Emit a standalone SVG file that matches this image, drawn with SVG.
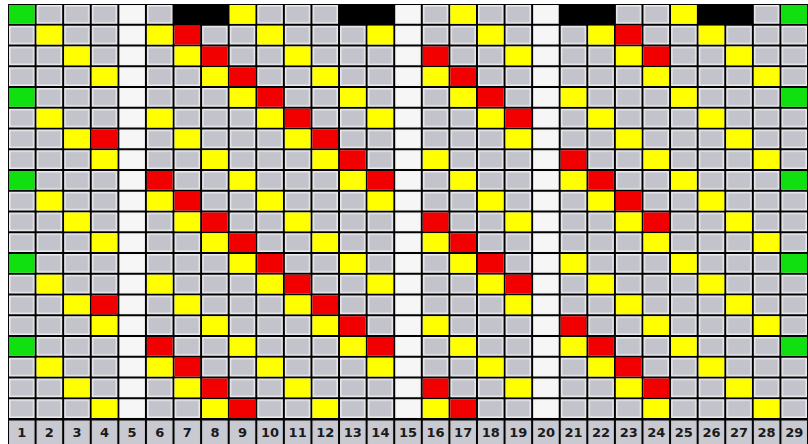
<svg xmlns="http://www.w3.org/2000/svg" xmlns:xlink="http://www.w3.org/1999/xlink" width="808" height="444" viewBox="0 0 808 444">
<style>
.y{fill:#ffff00}
.r{fill:#f20000}
.gr{fill:#10e010}
.k{fill:#000000}
.lbl{font-family:"DejaVu Sans","Liberation Sans",sans-serif;font-size:13px;font-weight:bold;fill:#1a1a1a;text-anchor:middle}
</style>
<defs>
<pattern id="gp" patternUnits="userSpaceOnUse" x="8" y="4" width="27.5862" height="20.75">
<rect width="27.5862" height="20.75" fill="#000"/>
<rect x="1" y="1" width="25.5862" height="18.75" fill="#ececf0"/>
<rect x="2.5" y="2.5" width="22.5862" height="15.75" fill="#c3c3cb"/>
</pattern>
<pattern id="wp" patternUnits="userSpaceOnUse" x="8" y="4" width="27.5862" height="20.75">
<rect width="27.5862" height="20.75" fill="#000"/>
<rect x="1" y="1" width="25.5862" height="18.75" fill="#f6f6f6"/>
</pattern>
<pattern id="lp" patternUnits="userSpaceOnUse" x="8" y="419" width="27.5862" height="25">
<rect width="27.5862" height="25" fill="#000"/>
<rect x="1" y="1.5" width="25.5862" height="24" fill="#c9c9d1"/>
</pattern>
</defs>
<rect width="808" height="444" fill="#ffffff"/>
<g id="grid">
<rect x="8" y="4" width="800" height="415" fill="url(#gp)"/>
<rect id="col5" x="118.345" y="4" width="27.5862" height="415" fill="url(#wp)"/>
<rect id="col15" x="394.207" y="4" width="27.5862" height="415" fill="url(#wp)"/>
<rect id="col20" x="532.138" y="4" width="27.5862" height="415" fill="url(#wp)"/>
</g>
<g id="row0" transform="translate(0,5)">
<rect class="gr" x="9" y="0" width="25.59" height="18.75"/>
<rect class="k" x="173.52" y="-1" width="55.17" height="20.75"/>
<rect class="y" x="229.69" y="0" width="25.59" height="18.75"/>
<rect class="k" x="339.03" y="-1" width="55.17" height="20.75"/>
<rect class="y" x="450.38" y="0" width="25.59" height="18.75"/>
<rect class="k" x="559.72" y="-1" width="55.17" height="20.75"/>
<rect class="y" x="671.07" y="0" width="25.59" height="18.75"/>
<rect class="k" x="697.66" y="-1" width="55.17" height="20.75"/>
<rect class="gr" x="781.41" y="0" width="25.59" height="18.75"/>
</g>
<g id="row1" transform="translate(0,25.75)">
<rect class="y" x="36.59" y="0" width="25.59" height="18.75"/>
<rect class="y" x="146.93" y="0" width="25.59" height="18.75"/>
<rect class="r" x="174.52" y="0" width="25.59" height="18.75"/>
<rect class="y" x="257.28" y="0" width="25.59" height="18.75"/>
<rect class="y" x="367.62" y="0" width="25.59" height="18.75"/>
<rect class="y" x="477.97" y="0" width="25.59" height="18.75"/>
<rect class="y" x="588.31" y="0" width="25.59" height="18.75"/>
<rect class="r" x="615.90" y="0" width="25.59" height="18.75"/>
<rect class="y" x="698.66" y="0" width="25.59" height="18.75"/>
</g>
<g id="row2" transform="translate(0,46.5)">
<rect class="y" x="64.17" y="0" width="25.59" height="18.75"/>
<rect class="y" x="174.52" y="0" width="25.59" height="18.75"/>
<rect class="r" x="202.10" y="0" width="25.59" height="18.75"/>
<rect class="y" x="284.86" y="0" width="25.59" height="18.75"/>
<rect class="r" x="422.79" y="0" width="25.59" height="18.75"/>
<rect class="y" x="505.55" y="0" width="25.59" height="18.75"/>
<rect class="y" x="615.90" y="0" width="25.59" height="18.75"/>
<rect class="r" x="643.48" y="0" width="25.59" height="18.75"/>
<rect class="y" x="726.24" y="0" width="25.59" height="18.75"/>
</g>
<g id="row3" transform="translate(0,67.25)">
<rect class="y" x="91.76" y="0" width="25.59" height="18.75"/>
<rect class="y" x="202.10" y="0" width="25.59" height="18.75"/>
<rect class="r" x="229.69" y="0" width="25.59" height="18.75"/>
<rect class="y" x="312.45" y="0" width="25.59" height="18.75"/>
<rect class="y" x="422.79" y="0" width="25.59" height="18.75"/>
<rect class="r" x="450.38" y="0" width="25.59" height="18.75"/>
<rect class="y" x="643.48" y="0" width="25.59" height="18.75"/>
<rect class="y" x="753.83" y="0" width="25.59" height="18.75"/>
</g>
<g id="row4" transform="translate(0,88)">
<rect class="gr" x="9" y="0" width="25.59" height="18.75"/>
<rect class="y" x="229.69" y="0" width="25.59" height="18.75"/>
<rect class="r" x="257.28" y="0" width="25.59" height="18.75"/>
<rect class="y" x="340.03" y="0" width="25.59" height="18.75"/>
<rect class="y" x="450.38" y="0" width="25.59" height="18.75"/>
<rect class="r" x="477.97" y="0" width="25.59" height="18.75"/>
<rect class="y" x="560.72" y="0" width="25.59" height="18.75"/>
<rect class="y" x="671.07" y="0" width="25.59" height="18.75"/>
<rect class="gr" x="781.41" y="0" width="25.59" height="18.75"/>
</g>
<g id="row5" transform="translate(0,108.75)">
<rect class="y" x="36.59" y="0" width="25.59" height="18.75"/>
<rect class="y" x="146.93" y="0" width="25.59" height="18.75"/>
<rect class="y" x="257.28" y="0" width="25.59" height="18.75"/>
<rect class="r" x="284.86" y="0" width="25.59" height="18.75"/>
<rect class="y" x="367.62" y="0" width="25.59" height="18.75"/>
<rect class="y" x="477.97" y="0" width="25.59" height="18.75"/>
<rect class="r" x="505.55" y="0" width="25.59" height="18.75"/>
<rect class="y" x="588.31" y="0" width="25.59" height="18.75"/>
<rect class="y" x="698.66" y="0" width="25.59" height="18.75"/>
</g>
<g id="row6" transform="translate(0,129.5)">
<rect class="y" x="64.17" y="0" width="25.59" height="18.75"/>
<rect class="r" x="91.76" y="0" width="25.59" height="18.75"/>
<rect class="y" x="174.52" y="0" width="25.59" height="18.75"/>
<rect class="y" x="284.86" y="0" width="25.59" height="18.75"/>
<rect class="r" x="312.45" y="0" width="25.59" height="18.75"/>
<rect class="y" x="505.55" y="0" width="25.59" height="18.75"/>
<rect class="y" x="615.90" y="0" width="25.59" height="18.75"/>
<rect class="y" x="726.24" y="0" width="25.59" height="18.75"/>
</g>
<g id="row7" transform="translate(0,150.25)">
<rect class="y" x="91.76" y="0" width="25.59" height="18.75"/>
<rect class="y" x="202.10" y="0" width="25.59" height="18.75"/>
<rect class="y" x="312.45" y="0" width="25.59" height="18.75"/>
<rect class="r" x="340.03" y="0" width="25.59" height="18.75"/>
<rect class="y" x="422.79" y="0" width="25.59" height="18.75"/>
<rect class="r" x="560.72" y="0" width="25.59" height="18.75"/>
<rect class="y" x="643.48" y="0" width="25.59" height="18.75"/>
<rect class="y" x="753.83" y="0" width="25.59" height="18.75"/>
</g>
<g id="row8" transform="translate(0,171)">
<rect class="gr" x="9" y="0" width="25.59" height="18.75"/>
<rect class="r" x="146.93" y="0" width="25.59" height="18.75"/>
<rect class="y" x="229.69" y="0" width="25.59" height="18.75"/>
<rect class="y" x="340.03" y="0" width="25.59" height="18.75"/>
<rect class="r" x="367.62" y="0" width="25.59" height="18.75"/>
<rect class="y" x="450.38" y="0" width="25.59" height="18.75"/>
<rect class="y" x="560.72" y="0" width="25.59" height="18.75"/>
<rect class="r" x="588.31" y="0" width="25.59" height="18.75"/>
<rect class="y" x="671.07" y="0" width="25.59" height="18.75"/>
<rect class="gr" x="781.41" y="0" width="25.59" height="18.75"/>
</g>
<g id="rows9to19">
<use id="row9" href="#row1" xlink:href="#row1" y="166"/>
<use id="row10" href="#row2" xlink:href="#row2" y="166"/>
<use id="row11" href="#row3" xlink:href="#row3" y="166"/>
<use id="row12" href="#row4" xlink:href="#row4" y="166"/>
<use id="row13" href="#row5" xlink:href="#row5" y="166"/>
<use id="row14" href="#row6" xlink:href="#row6" y="166"/>
<use id="row15" href="#row7" xlink:href="#row7" y="166"/>
<use id="row16" href="#row8" xlink:href="#row8" y="166"/>
<use id="row17" href="#row1" xlink:href="#row1" y="332"/>
<use id="row18" href="#row2" xlink:href="#row2" y="332"/>
<use id="row19" href="#row3" xlink:href="#row3" y="332"/>
</g>
<g id="labels">
<rect x="8" y="419" width="800" height="25" fill="url(#lp)"/>
<text class="lbl" x="21.79" y="437">1</text>
<text class="lbl" x="49.38" y="437">2</text>
<text class="lbl" x="76.97" y="437">3</text>
<text class="lbl" x="104.55" y="437">4</text>
<text class="lbl" x="132.14" y="437">5</text>
<text class="lbl" x="159.72" y="437">6</text>
<text class="lbl" x="187.31" y="437">7</text>
<text class="lbl" x="214.90" y="437">8</text>
<text class="lbl" x="242.48" y="437">9</text>
<text class="lbl" x="270.07" y="437">10</text>
<text class="lbl" x="297.66" y="437">11</text>
<text class="lbl" x="325.24" y="437">12</text>
<text class="lbl" x="352.83" y="437">13</text>
<text class="lbl" x="380.41" y="437">14</text>
<text class="lbl" x="408.00" y="437">15</text>
<text class="lbl" x="435.59" y="437">16</text>
<text class="lbl" x="463.17" y="437">17</text>
<text class="lbl" x="490.76" y="437">18</text>
<text class="lbl" x="518.34" y="437">19</text>
<text class="lbl" x="545.93" y="437">20</text>
<text class="lbl" x="573.52" y="437">21</text>
<text class="lbl" x="601.10" y="437">22</text>
<text class="lbl" x="628.69" y="437">23</text>
<text class="lbl" x="656.28" y="437">24</text>
<text class="lbl" x="683.86" y="437">25</text>
<text class="lbl" x="711.45" y="437">26</text>
<text class="lbl" x="739.03" y="437">27</text>
<text class="lbl" x="766.62" y="437">28</text>
<text class="lbl" x="794.21" y="437">29</text>
</g>
</svg>
